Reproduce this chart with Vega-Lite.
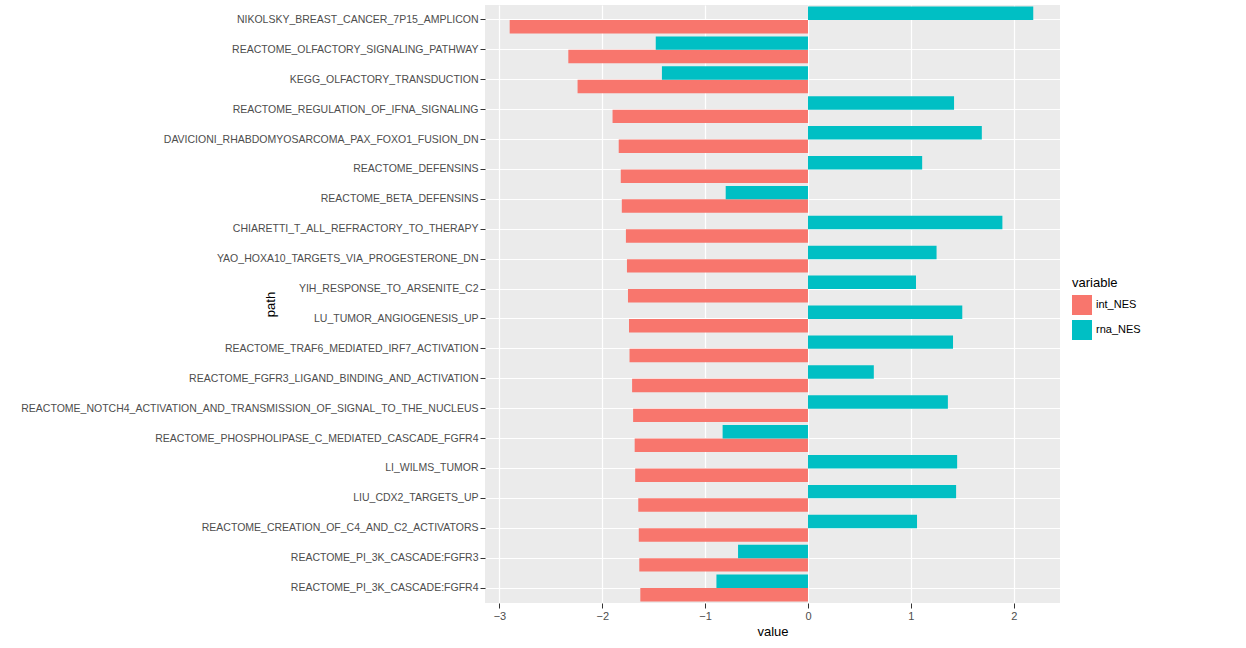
{
  "$schema": "https://vega.github.io/schema/vega-lite/v6.json",
  "width": 575,
  "height": 598,
  "padding": {"top": 5, "left": 20, "right": 5, "bottom": 5},
  "background": "white",
  "data": {"values": [
    {"path": "NIKOLSKY_BREAST_CANCER_7P15_AMPLICON", "int_NES": -2.90, "rna_NES": 2.19},
    {"path": "REACTOME_OLFACTORY_SIGNALING_PATHWAY", "int_NES": -2.33, "rna_NES": -1.48},
    {"path": "KEGG_OLFACTORY_TRANSDUCTION", "int_NES": -2.24, "rna_NES": -1.42},
    {"path": "REACTOME_REGULATION_OF_IFNA_SIGNALING", "int_NES": -1.90, "rna_NES": 1.42},
    {"path": "DAVICIONI_RHABDOMYOSARCOMA_PAX_FOXO1_FUSION_DN", "int_NES": -1.84, "rna_NES": 1.69},
    {"path": "REACTOME_DEFENSINS", "int_NES": -1.82, "rna_NES": 1.11},
    {"path": "REACTOME_BETA_DEFENSINS", "int_NES": -1.81, "rna_NES": -0.80},
    {"path": "CHIARETTI_T_ALL_REFRACTORY_TO_THERAPY", "int_NES": -1.77, "rna_NES": 1.89},
    {"path": "YAO_HOXA10_TARGETS_VIA_PROGESTERONE_DN", "int_NES": -1.76, "rna_NES": 1.25},
    {"path": "YIH_RESPONSE_TO_ARSENITE_C2", "int_NES": -1.75, "rna_NES": 1.05},
    {"path": "LU_TUMOR_ANGIOGENESIS_UP", "int_NES": -1.74, "rna_NES": 1.50},
    {"path": "REACTOME_TRAF6_MEDIATED_IRF7_ACTIVATION", "int_NES": -1.735, "rna_NES": 1.41},
    {"path": "REACTOME_FGFR3_LIGAND_BINDING_AND_ACTIVATION", "int_NES": -1.71, "rna_NES": 0.64},
    {"path": "REACTOME_NOTCH4_ACTIVATION_AND_TRANSMISSION_OF_SIGNAL_TO_THE_NUCLEUS", "int_NES": -1.70, "rna_NES": 1.36},
    {"path": "REACTOME_PHOSPHOLIPASE_C_MEDIATED_CASCADE_FGFR4", "int_NES": -1.685, "rna_NES": -0.83},
    {"path": "LI_WILMS_TUMOR", "int_NES": -1.68, "rna_NES": 1.45},
    {"path": "LIU_CDX2_TARGETS_UP", "int_NES": -1.65, "rna_NES": 1.44},
    {"path": "REACTOME_CREATION_OF_C4_AND_C2_ACTIVATORS", "int_NES": -1.645, "rna_NES": 1.06},
    {"path": "REACTOME_PI_3K_CASCADE:FGFR3", "int_NES": -1.64, "rna_NES": -0.68},
    {"path": "REACTOME_PI_3K_CASCADE:FGFR4", "int_NES": -1.63, "rna_NES": -0.89}
  ]},
  "transform": [{"fold": ["int_NES", "rna_NES"], "as": ["variable", "value"]}],
  "mark": {"type": "bar"},
  "encoding": {
    "y": {
      "field": "path", "type": "nominal",
      "sort": {"field": "int_NES", "op": "min", "order": "ascending"},
      "scale": {"paddingInner": 0.1, "paddingOuter": 0.05},
      "axis": {"title": "path", "labelColor": "#4D4D4D", "labelFontSize": 10.5, "labelLimit": 600, "tickColor": "#333333", "titleFontWeight": "normal", "titleFontSize": 13, "titleColor": "black", "domain": false, "titlePadding": 8}
    },
    "yOffset": {"field": "variable", "type": "nominal", "sort": "descending"},
    "x": {
      "field": "value", "type": "quantitative",
      "scale": {"domain": [-3.14, 2.45], "nice": false, "zero": false},
      "axis": {"title": "value", "values": [-3, -2, -1, 0, 1, 2], "labelColor": "#4D4D4D", "labelFontSize": 11, "tickColor": "#333333", "titleFontWeight": "normal", "titleFontSize": 13, "titleColor": "black", "domain": false, "gridColor": "white"}
    },
    "color": {
      "field": "variable", "type": "nominal",
      "scale": {"domain": ["int_NES", "rna_NES"], "range": ["#F8766D", "#00BFC4"]},
      "legend": {"title": "variable", "orient": "none", "legendX": 587, "legendY": 272, "symbolType": "square", "symbolSize": 400, "symbolStrokeWidth": 0, "titleFontWeight": "normal", "titleFontSize": 13, "labelFontSize": 11, "rowPadding": 5}
    }
  },
  "config": {
    "view": {"fill": "#EBEBEB", "stroke": null},
    "axis": {"gridColor": "white", "gridWidth": 1.2, "labelFont": "Liberation Sans", "titleFont": "Liberation Sans"},
    "axisY": {"grid": true},
    "legend": {"labelFont": "Liberation Sans", "titleFont": "Liberation Sans"}
  }
}
